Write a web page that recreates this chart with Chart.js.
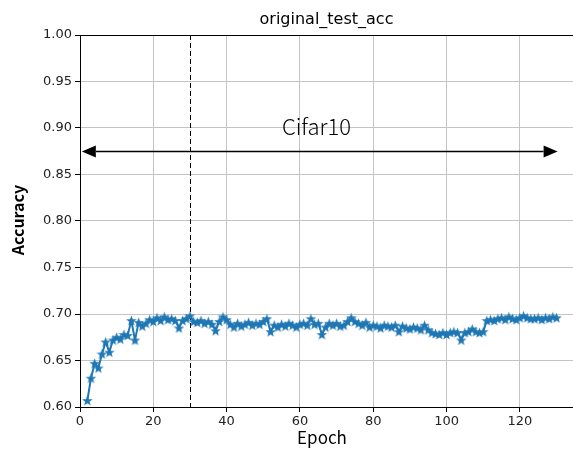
<!DOCTYPE html>
<html>
<head>
<meta charset="utf-8">
<title>original_test_acc</title>
<script src="https://cdn.jsdelivr.net/npm/chart.js@4.4.0/dist/chart.umd.min.js"></script>
<style>
  html, body { margin: 0; padding: 0; background: #ffffff; overflow: hidden; width: 573px; height: 450px; }
  #c { display: block; }
</style>
</head>
<body>
<canvas id="c" width="580" height="450"></canvas>
<script>
// Test accuracy per epoch on CIFAR-10
const epochs = [
    2,   3,   4,   5,   6,   7,   8,   9,  10,  11,  12,  13,  14,  15,  16,
   17,  18,  19,  20,  21,  22,  23,  24,  25,  26,  27,  28,  29,  30,  31,
   32,  33,  34,  35,  36,  37,  38,  39,  40,  41,  42,  43,  44,  45,  46,
   47,  48,  49,  50,  51,  52,  53,  54,  55,  56,  57,  58,  59,  60,  61,
   62,  63,  64,  65,  66,  67,  68,  69,  70,  71,  72,  73,  74,  75,  76,
   77,  78,  79,  80,  81,  82,  83,  84,  85,  86,  87,  88,  89,  90,  91,
   92,  93,  94,  95,  96,  97,  98,  99, 100, 101, 102, 103, 104, 105, 106,
  107, 108, 109, 110, 111, 112, 113, 114, 115, 116, 117, 118, 119, 120, 121,
  122, 123, 124, 125, 126, 127, 128, 129, 130
];
const accuracy = [
  0.607, 0.631, 0.647, 0.642, 0.657, 0.670, 0.659, 0.672, 0.675, 0.673, 0.678, 0.677, 0.693, 0.672, 0.691,
  0.687, 0.690, 0.694, 0.692, 0.696, 0.693, 0.697, 0.694, 0.695, 0.693, 0.685, 0.693, 0.695, 0.698, 0.692,
  0.691, 0.693, 0.690, 0.692, 0.689, 0.682, 0.692, 0.697, 0.694, 0.689, 0.686, 0.690, 0.687, 0.689, 0.691,
  0.688, 0.690, 0.689, 0.692, 0.695, 0.681, 0.688, 0.686, 0.689, 0.687, 0.690, 0.688, 0.686, 0.689, 0.690,
  0.688, 0.695, 0.689, 0.690, 0.678, 0.686, 0.690, 0.688, 0.690, 0.687, 0.688, 0.692, 0.696, 0.692, 0.690,
  0.688, 0.691, 0.686, 0.688, 0.687, 0.685, 0.688, 0.687, 0.686, 0.688, 0.681, 0.687, 0.685, 0.684, 0.686,
  0.685, 0.683, 0.688, 0.683, 0.680, 0.679, 0.678, 0.680, 0.678, 0.680, 0.681, 0.680, 0.672, 0.680, 0.681,
  0.684, 0.681, 0.680, 0.681, 0.693, 0.694, 0.693, 0.695, 0.696, 0.694, 0.697, 0.695, 0.694, 0.696, 0.698,
  0.696, 0.695, 0.695, 0.696, 0.694, 0.696, 0.695, 0.697, 0.696
];
const xTicks = [0, 20, 40, 60, 80, 100, 120];
const yTicks = [0.60, 0.65, 0.70, 0.75, 0.80, 0.85, 0.90, 0.95, 1.00];

// Annotation: warm-up boundary and dataset span
const warmupEpoch = 30;
const spanStart = 0.5;
const spanEnd = 130.3;
const spanLevel = 0.875;
const spanLabel = 'Cifar10';
const spanLabelAt = { x: 64.5, y: 0.901 };

const lineBlue = '#1f77b4';
const visibleWidth = 573;

// Filled five-pointed star used as the point marker
function makeStar(size, color) {
  const cv = document.createElement('canvas');
  cv.width = size; cv.height = size;
  const g = cv.getContext('2d');
  const c = size / 2, R = size / 2, r = R * 0.42;
  g.beginPath();
  for (let i = 0; i < 10; i++) {
    const a = -Math.PI / 2 + i * Math.PI / 5;
    const rad = i % 2 === 0 ? R : r;
    const px = c + rad * Math.cos(a), py = c + 0.5 + rad * Math.sin(a);
    if (i === 0) g.moveTo(px, py); else g.lineTo(px, py);
  }
  g.closePath();
  g.fillStyle = color;
  g.fill();
  return cv;
}
const star = makeStar(11, lineBlue);

const points = epochs.map((e, i) => ({ x: e, y: accuracy[i] }));

const decorations = {
  id: 'decorations',
  beforeDatasetsDraw(chart) {
    const { ctx, chartArea: a, scales: { x } } = chart;
    const px = Math.round(x.getPixelForValue(warmupEpoch)) + 0.5;
    ctx.save();
    ctx.strokeStyle = '#000';
    ctx.lineWidth = 1;
    ctx.setLineDash([5, 3]);
    ctx.beginPath();
    ctx.moveTo(px, a.top);
    ctx.lineTo(px, a.bottom);
    ctx.stroke();
    ctx.restore();
  },
  afterDatasetsDraw(chart) {
    const { ctx, chartArea: a, scales: { x, y } } = chart;
    ctx.save();
    // top spine
    ctx.strokeStyle = '#000';
    ctx.lineWidth = 1;
    ctx.beginPath();
    ctx.moveTo(a.left, a.top + 0.5);
    ctx.lineTo(chart.width, a.top + 0.5);
    ctx.stroke();

    // double-headed arrow
    const x0 = x.getPixelForValue(spanStart);
    const x1 = x.getPixelForValue(spanEnd);
    const yy = Math.round(y.getPixelForValue(spanLevel)) + 0.5;
    const hl = 14, hw = 6;
    ctx.lineWidth = 1.3;
    ctx.beginPath();
    ctx.moveTo(x0 + hl, yy);
    ctx.lineTo(x1 - hl, yy);
    ctx.stroke();
    ctx.fillStyle = '#000';
    ctx.beginPath();
    ctx.moveTo(x0, yy);
    ctx.lineTo(x0 + hl, yy - hw);
    ctx.lineTo(x0 + hl, yy + hw);
    ctx.closePath();
    ctx.fill();
    ctx.beginPath();
    ctx.moveTo(x1, yy);
    ctx.lineTo(x1 - hl, yy - hw);
    ctx.lineTo(x1 - hl, yy + hw);
    ctx.closePath();
    ctx.fill();

    // span label
    ctx.font = '300 22px "Noto Sans CJK JP", "Noto Sans", sans-serif';
    ctx.textAlign = 'center';
    ctx.textBaseline = 'middle';
    ctx.fillText(spanLabel, x.getPixelForValue(spanLabelAt.x), y.getPixelForValue(spanLabelAt.y));
    ctx.restore();
  },
  afterDraw(chart) {
    const { ctx, chartArea: a } = chart;
    ctx.save();
    ctx.fillStyle = '#000';
    // title
    ctx.font = '16px "DejaVu Sans", sans-serif';
    ctx.textAlign = 'center';
    ctx.textBaseline = 'alphabetic';
    ctx.fillText('original_test_acc', (a.left + visibleWidth) / 2, 24);
    // x axis label
    ctx.font = '17px "Noto Sans CJK JP", sans-serif';
    ctx.textBaseline = 'middle';
    ctx.fillText('Epoch', 322, 438);
    // y axis label
    ctx.translate(18, 220);
    ctx.rotate(-Math.PI / 2);
    ctx.font = 'bold 16px "Noto Sans CJK JP", sans-serif';
    ctx.fillText('Accuracy', 0, 0);
    ctx.restore();
  }
};

new Chart(document.getElementById('c'), {
  type: 'line',
  data: {
    datasets: [{
      data: points,
      borderColor: lineBlue,
      backgroundColor: lineBlue,
      borderWidth: 2,
      pointStyle: star,
      pointRadius: 5,
      pointHoverRadius: 5,
      tension: 0,
      fill: false
    }]
  },
  options: {
    responsive: false,
    animation: false,
    devicePixelRatio: 1,
    layout: { padding: { top: 35, left: 0, right: 0, bottom: 0 } },
    plugins: { legend: { display: false }, title: { display: false }, tooltip: { enabled: false } },
    scales: {
      x: {
        type: 'linear',
        min: 0,
        max: 134.5,
        afterFit(s) { s.height = 43; s.paddingLeft = 0; s.paddingRight = 0; },
        afterBuildTicks(s) { s.ticks = xTicks.map(v => ({ value: v })); },
        ticks: {
          includeBounds: false,
          color: '#222',
          font: { family: '"DejaVu Sans", sans-serif', size: 13 },
          padding: 2,
          maxRotation: 0
        },
        grid: { color: '#c4c4c4', lineWidth: 1, tickLength: 5, tickColor: '#000' },
        border: { color: '#000', width: 1 }
      },
      y: {
        min: 0.6,
        max: 1.0,
        afterFit(s) { s.width = 80; },
        afterBuildTicks(s) { s.ticks = yTicks.map(v => ({ value: v })); },
        ticks: {
          color: '#222',
          font: { family: '"DejaVu Sans", sans-serif', size: 13 },
          padding: 3,
          callback: v => Number(v).toFixed(2)
        },
        grid: { color: '#c4c4c4', lineWidth: 1, tickLength: 5, tickColor: '#000' },
        border: { color: '#000', width: 1 }
      }
    }
  },
  plugins: [decorations]
});
</script>
</body>
</html>
